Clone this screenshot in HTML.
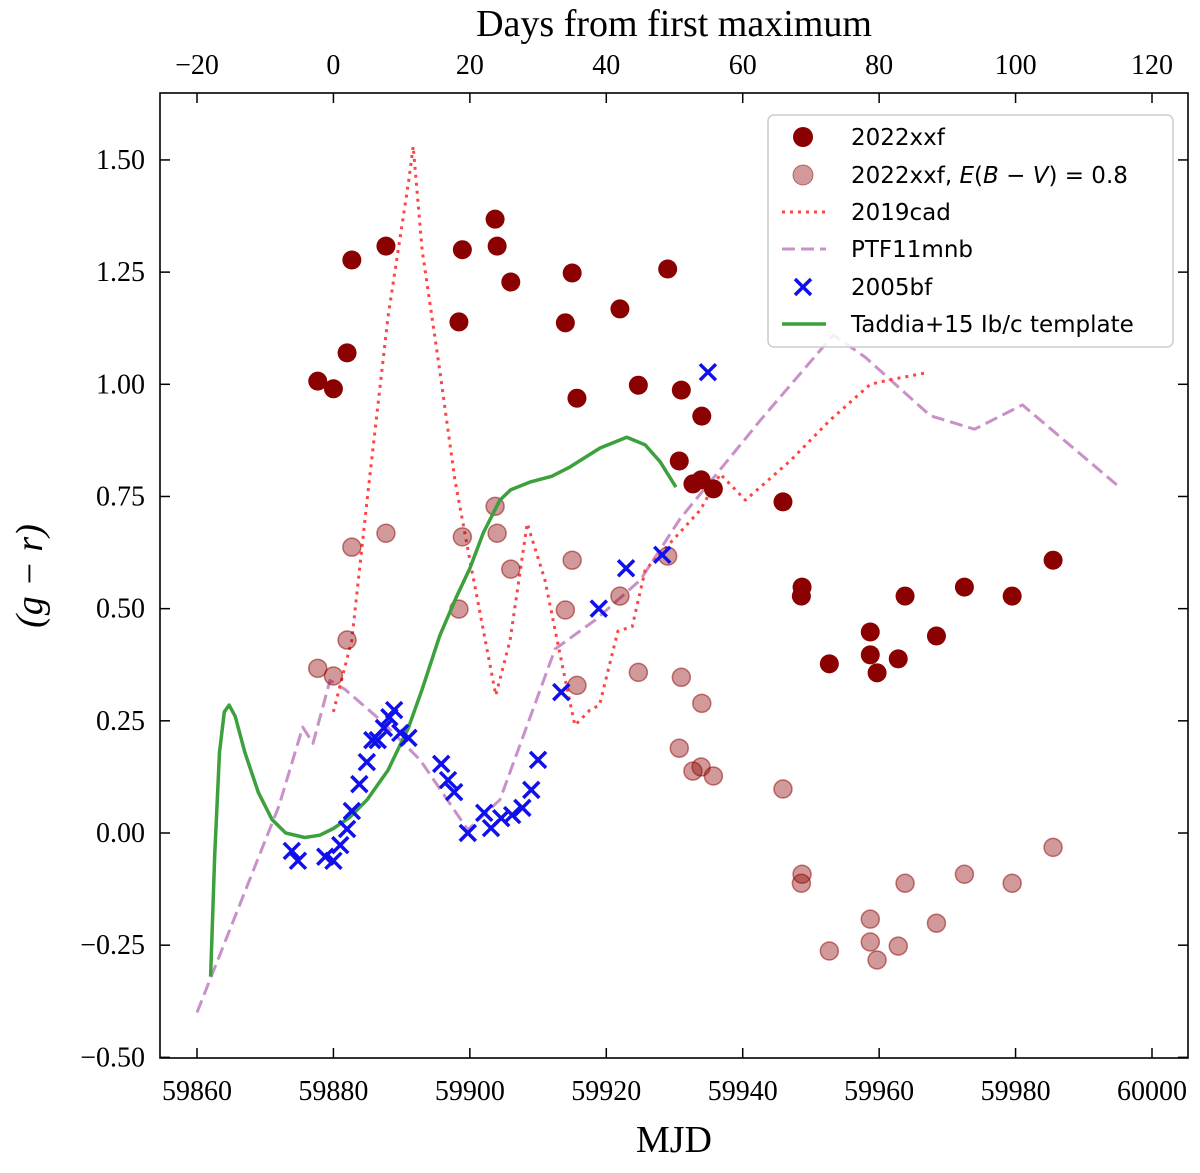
<!DOCTYPE html>
<html><head><meta charset="utf-8"><style>
body{margin:0;background:#fff}
svg text{font-family:"Liberation Serif",serif}
.lg text{font-family:"DejaVu Sans","Liberation Sans",sans-serif}
</style></head><body>
<svg id="chart" width="1200" height="1168" xmlns="http://www.w3.org/2000/svg">
<g id="marks"></g>
<rect x="160" y="93" width="1028" height="965" fill="none" stroke="#000" stroke-width="1.6"/>
<g id="axes"></g>
<text x="674" y="1152" font-size="38" text-anchor="middle">MJD</text>
<text x="674" y="36" font-size="38" text-anchor="middle">Days from first maximum</text>
<text transform="translate(42,576) rotate(-90)" font-size="38" text-anchor="middle" font-style="italic">(g − r)</text>
<g class="lg">
<rect x="768" y="115" width="405" height="232" rx="6" fill="#fff" fill-opacity="0.85" stroke="#ccc" stroke-width="1.5"/>
<circle cx="803" cy="137" r="10" fill="#8b0000"/>
<text x="851" y="145" font-size="23">2022xxf</text>
<circle cx="803" cy="175" r="10" fill="#8b0000" fill-opacity="0.4" stroke="#8b0000" stroke-opacity="0.5"/>
<text x="851" y="183" font-size="23">2022xxf, <tspan font-style="italic">E</tspan>(<tspan font-style="italic">B</tspan> − <tspan font-style="italic">V</tspan>) = 0.8</text>
<line x1="782" y1="212" x2="826" y2="212" stroke="#ff4444" stroke-width="3" stroke-dasharray="3,5"/>
<text x="851" y="220" font-size="23">2019cad</text>
<line x1="782" y1="249" x2="826" y2="249" stroke="#c990c9" stroke-width="3" stroke-dasharray="13,6"/>
<text x="851" y="257" font-size="23">PTF11mnb</text>
<path d="M795,279 l16,16 M811,279 l-16,16" stroke="#1010ee" stroke-width="3.5"/>
<text x="851" y="295" font-size="23">2005bf</text>
<line x1="782" y1="324" x2="826" y2="324" stroke="#3ca03c" stroke-width="3.5"/>
<text x="851" y="332" font-size="23">Taddia+15 Ib/c template</text>
</g>
</svg>
<script>
const xTicks=[59860,59880,59900,59920,59940,59960,59980,60000];
const topTicks=[-20,0,20,40,60,80,100,120];
const yTicks=[-0.5,-0.25,0,0.25,0.5,0.75,1.0,1.25,1.5];
const yTickLabels=["−0.50","−0.25","0.00","0.25","0.50","0.75","1.00","1.25","1.50"];
const darkX=[59877.7,59880,59882,59882.7,59887.7,59898.4,59898.9,59903.7,59904,59906,59914,59915,59915.7,59922,59924.7,59929,59930.7,59931,59932.7,59933.9,59934,59935.7,59945.9,59948.7,59948.6,59952.7,59958.7,59958.7,59959.7,59962.8,59963.8,59968.4,59972.5,59979.5,59985.5];
const darkY=[1.007,0.99,1.07,1.277,1.308,1.139,1.30,1.368,1.308,1.228,1.137,1.248,0.969,1.168,0.998,1.257,0.829,0.987,0.778,0.787,0.929,0.767,0.738,0.548,0.528,0.377,0.448,0.397,0.357,0.388,0.528,0.439,0.548,0.528,0.608];
const lightY=[0.367,0.35,0.43,0.637,0.668,0.499,0.66,0.728,0.668,0.588,0.497,0.608,0.329,0.528,0.358,0.617,0.189,0.347,0.138,0.147,0.289,0.127,0.098,-0.092,-0.112,-0.263,-0.192,-0.243,-0.283,-0.252,-0.112,-0.201,-0.092,-0.112,-0.032];
const bfX=[59873.9,59874.8,59878.8,59880,59881,59882,59882.7,59883.8,59884.9,59885.7,59886.5,59887.4,59888.2,59888.9,59889.8,59891,59895.8,59896.8,59897.7,59899.7,59902.1,59903.1,59904.6,59906.2,59907.7,59909,59910,59913.4,59918.9,59922.9,59928.2,59934.9];
const bfY=[-0.04,-0.062,-0.053,-0.062,-0.027,0.009,0.049,0.109,0.158,0.207,0.207,0.234,0.258,0.274,0.223,0.212,0.154,0.118,0.091,0.0,0.045,0.011,0.033,0.04,0.056,0.096,0.163,0.314,0.5,0.59,0.62,1.027];
const tplX=[59862,59862.6,59863.3,59864,59864.7,59865.6,59867,59869,59871,59873,59875.8,59878,59880,59882.4,59885,59888,59891,59893,59895.6,59898,59900,59902,59904.4,59906,59908.8,59912,59914.7,59919.1,59923,59925.7,59927.9,59930.2];
const tplY=[-0.32,-0.05,0.18,0.27,0.285,0.26,0.18,0.09,0.03,0.0,-0.01,-0.005,0.01,0.035,0.075,0.14,0.235,0.32,0.44,0.525,0.59,0.67,0.742,0.765,0.782,0.795,0.816,0.858,0.882,0.865,0.827,0.771];
const cadX=[59880,59882.7,59885,59888,59891,59891.7,59893,59895.6,59897.8,59900,59902,59903.8,59905.9,59908.4,59911,59914,59915.4,59917.6,59919,59921.7,59923.8,59925.7,59929,59933.8,59936.7,59940.4,59947,59952.8,59958.7,59961.6,59966.7];
const cadY=[0.27,0.43,0.75,1.15,1.45,1.53,1.30,1.03,0.787,0.608,0.45,0.307,0.43,0.69,0.564,0.34,0.24,0.274,0.285,0.45,0.46,0.586,0.64,0.72,0.8,0.742,0.83,0.92,1.0,1.01,1.025];
const ptfX=[59860,59866,59872,59875.5,59877,59879.5,59881.7,59887,59892.7,59899.7,59904.4,59912.5,59918.4,59925,59930.8,59942.6,59953.3,59958,59967.5,59974,59981,59995.3];
const ptfY=[-0.40,-0.17,0.06,0.236,0.2,0.34,0.32,0.25,0.163,0.007,0.074,0.41,0.475,0.564,0.7,0.92,1.11,1.06,0.93,0.90,0.954,0.77];
const NS="http://www.w3.org/2000/svg";
const X=v=>197+(v-59860)*955/140, XT=d=>X(d+59880), Y=v=>833-v*448.7;
const marks=document.getElementById('marks'), axes=document.getElementById('axes');
function mk(tag,attrs,parent){const e=document.createElementNS(NS,tag);for(const k in attrs)e.setAttribute(k,attrs[k]);parent.appendChild(e);return e;}
function line(xs,ys,stroke,w,dash,name){
  const p=mk('path',{d:xs.map((x,i)=>(i?'L':'M')+X(x).toFixed(1)+','+Y(ys[i]).toFixed(1)).join(''),fill:'none',stroke:stroke,'stroke-width':w,'stroke-dasharray':dash,'stroke-linejoin':'round'},marks);
  
  
}
line(ptfX,ptfY,'#c990c9',3,'13,6','ptf11mnb-line');
line(cadX,cadY,'#ff4444',3,'3,5','2019cad-line');
darkX.forEach((x,i)=>{
  const c=mk('circle',{cx:X(x),cy:Y(lightY[i]),r:9,fill:'#8b0000','fill-opacity':0.4,stroke:'#8b0000','stroke-opacity':0.5,'stroke-width':1.5},marks);
  
  
});
line(tplX,tplY,'#3ca03c',3.5,'','taddia-template-line');
darkX.forEach((x,i)=>{
  const c=mk('circle',{cx:X(x),cy:Y(darkY[i]),r:9.5,fill:'#8b0000'},marks);
  
  
});
bfX.forEach((x,i)=>{
  const cx=X(x),cy=Y(bfY[i]);
  const p=mk('path',{d:`M${cx-8},${cy-8}L${cx+8},${cy+8}M${cx+8},${cy-8}L${cx-8},${cy+8}`,stroke:'#1010ee','stroke-width':3.5},marks);
  
  
});
xTicks.forEach(t=>{
  mk('line',{x1:X(t),x2:X(t),y1:1058,y2:1048,stroke:'#000','stroke-width':1.5},axes);
  const e=mk('text',{x:X(t),y:1100,'font-size':28,'text-anchor':'middle'},axes);e.textContent=t;
  
  
});
topTicks.forEach(t=>{
  mk('line',{x1:XT(t),x2:XT(t),y1:93,y2:103,stroke:'#000','stroke-width':1.5},axes);
  const e=mk('text',{x:XT(t),y:74,'font-size':28,'text-anchor':'middle'},axes);e.textContent=t<0?'−'+(-t):t;
  
  
});
yTicks.forEach((t,i)=>{
  mk('line',{x1:160,x2:170,y1:Y(t),y2:Y(t),stroke:'#000','stroke-width':1.5},axes);
  mk('line',{x1:1188,x2:1178,y1:Y(t),y2:Y(t),stroke:'#000','stroke-width':1.5},axes);
  const e=mk('text',{x:145,y:Y(t)+9,'font-size':28,'text-anchor':'end'},axes);e.textContent=yTickLabels[i];
  
  
});
</script>
</body></html>
